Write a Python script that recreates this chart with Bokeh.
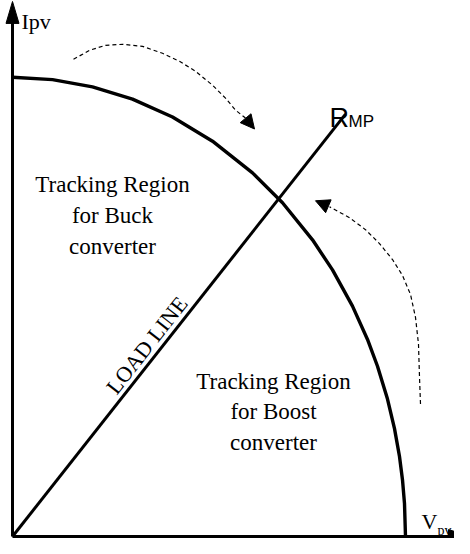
import math
from bokeh.plotting import figure
from bokeh.models import Range1d, Arrow, NormalHead
from bokeh.core.properties import value
from bokeh.embed import file_html
from bokeh.resources import INLINE

# ---- values (units ~ px from the origin) ----
pv_curve_v = [0, 40, 80, 120, 160, 200, 240, 270, 300, 320, 340, 355, 365, 375, 382, 387, 390, 392, 393]
pv_curve_i = [461, 458.6, 451.3, 439.0, 421.1, 396.8, 365.0, 335.0, 297.8, 267.6, 231.2, 197.8, 170.9,
              137.9, 108.3, 80.3, 56.8, 32.9, 0]
load_line_v = [0, 333]
load_line_i = [0, 424]
buck_arrow_v = [61, 77, 93, 110, 130, 150, 167, 183, 200, 213, 223, 233]
buck_arrow_i = [479, 488, 493, 494, 492, 485, 477, 467, 453, 440, 428, 420]
boost_arrow_v = [408, 407, 406, 403, 398, 390, 380, 367, 353, 337, 317]
boost_arrow_i = [133, 160, 193, 220, 243, 262, 278, 294, 308, 320, 331]
arrow_tips_v = [242, 303]
arrow_tips_i = [409, 337]
buck_label = ["Tracking Region", "for Buck", "converter"]
boost_label = ["Tracking Region", "for Boost", "converter"]
load_label = "LOAD LINE"

V_AXIS_END = 458
I_AXIS_END = 537

SERIF = value("Liberation Serif")
SANS = value("Liberation Sans")

p = figure(width=454, height=538, x_range=Range1d(-12, 442), y_range=Range1d(-2, 538),
           output_backend="svg", toolbar_location=None,
           x_axis_location=None, y_axis_location=None, min_border=0)
p.outline_line_color = None
p.grid.visible = False
p.background_fill_color = "white"

# axes with arrowheads
head_len, head_half = 22, 6.5
p.line([0, 0], [0, I_AXIS_END - head_len + 2], line_color="black", line_width=3)
p.line([0, V_AXIS_END - head_len + 2], [0, 0], line_color="black", line_width=3)
p.patch([-head_half, 0, head_half], [I_AXIS_END - head_len, I_AXIS_END, I_AXIS_END - head_len],
        color="black")
p.patch([V_AXIS_END - head_len, V_AXIS_END, V_AXIS_END - head_len], [-head_half - 0.5, 0, head_half + 0.5],
        color="black")

# PV curve and load line
p.line(pv_curve_v, pv_curve_i, line_color="black", line_width=3.4)
p.line(load_line_v, load_line_i, line_color="black", line_width=3)

# dashed tracking arrows
p.line(buck_arrow_v, buck_arrow_i, line_color="black", line_width=1.2, line_dash="4 3")
p.line(boost_arrow_v, boost_arrow_i, line_color="black", line_width=1.2, line_dash="4 3")
p.add_layout(Arrow(end=NormalHead(size=14, fill_color="black", line_color="black", line_width=1),
                   x_start=buck_arrow_v[-1], y_start=buck_arrow_i[-1],
                   x_end=arrow_tips_v[0], y_end=arrow_tips_i[0], line_alpha=0))
p.add_layout(Arrow(end=NormalHead(size=14, fill_color="black", line_color="black", line_width=1),
                   x_start=boost_arrow_v[-1], y_start=boost_arrow_i[-1],
                   x_end=arrow_tips_v[1], y_end=arrow_tips_i[1], line_alpha=0))

# axis labels
p.text(x=[9], y=[517], text=["Ipv"], text_font=SERIF, text_font_size="22px",
       text_align="left", text_baseline="alphabetic", text_color="black")
p.text(x=[409], y=[15], text=["V"], text_font=SERIF, text_font_size="22px",
       text_align="left", text_baseline="alphabetic", text_color="black")
p.text(x=[425], y=[6], text=["pv"], text_font=SERIF, text_font_size="14px",
       text_align="left", text_baseline="alphabetic", text_color="black")

# R_MP label
p.text(x=[317], y=[420], text=["R"], text_font=SANS, text_font_size="27px",
       text_align="left", text_baseline="alphabetic", text_color="black")
p.text(x=[336], y=[417], text=["MP"], text_font=SANS, text_font_size="17px",
       text_align="left", text_baseline="alphabetic", text_color="black")

# region labels
p.text(x=[100] * 3, y=[353, 322, 291], text=buck_label, text_font=SERIF, text_font_size="23px",
       text_align="center", text_baseline="alphabetic", text_color="black")
p.text(x=[261] * 3, y=[156, 125, 94], text=boost_label, text_font=SERIF, text_font_size="23px",
       text_align="center", text_baseline="alphabetic", text_color="black")

# LOAD LINE label along the line
dx = load_line_v[1] - load_line_v[0]
dy = load_line_i[1] - load_line_i[0]
theta = math.atan2(dy, dx)
L = math.hypot(dx, dy)
ux, uy = dx / L, dy / L
t, off = 234, 13
cx = load_line_v[0] + ux * t - uy * off
cy = load_line_i[0] + uy * t + ux * off
p.text(x=[cx], y=[cy], text=[load_label], angle=theta, text_font=SERIF, text_font_size="22px",
       text_align="center", text_baseline="middle", text_color="black")

open("out.html", "w").write(file_html(p, INLINE))
